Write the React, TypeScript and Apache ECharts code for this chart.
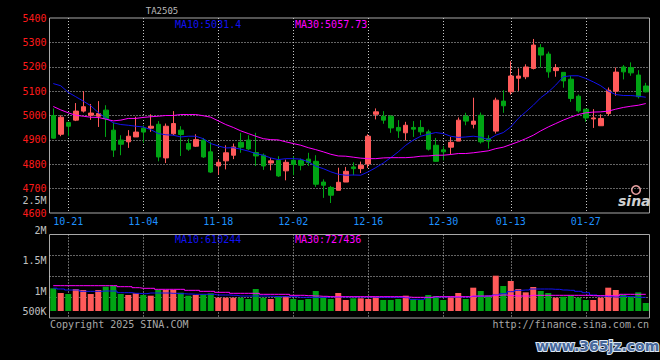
import React, { useEffect, useRef } from 'react';
import * as echarts from 'echarts';

const dates = [
  '10-17', '10-18', '10-21', '10-22', '10-23', '10-24', '10-25', '10-28', '10-29', '10-30',
  '10-31', '11-01', '11-04', '11-05', '11-06', '11-07', '11-08', '11-11', '11-12', '11-13',
  '11-14', '11-15', '11-18', '11-19', '11-20', '11-21', '11-22', '11-25', '11-26', '11-27',
  '11-28', '11-29', '12-02', '12-03', '12-04', '12-05', '12-06', '12-09', '12-10', '12-11',
  '12-12', '12-13', '12-16', '12-17', '12-18', '12-19', '12-20', '12-23', '12-24', '12-25',
  '12-26', '12-27', '12-30', '12-31', '01-02', '01-03', '01-06', '01-07', '01-08', '01-09',
  '01-10', '01-13', '01-14', '01-15', '01-16', '01-17', '01-20', '01-21', '01-22', '01-23',
  '01-24', '01-27', '02-05', '02-06', '02-07', '02-10', '02-11', '02-12', '02-13', '02-14',
];
const labelDates = ['10-21', '11-04', '11-18', '12-02', '12-16', '12-30', '01-13', '01-27'];

const opens = [
  5000, 4923, 4971, 4981, 5018, 5001, 4997, 5022, 4940, 4899,
  4892, 4912, 4948, 4948, 4964, 4826, 4925, 4940, 4885, 4874,
  4899, 4851, 4793, 4814, 4837, 4890, 4899, 4848, 4837, 4805,
  4816, 4773, 4816, 4816, 4821, 4812, 4727, 4705, 4693, 4727,
  4789, 4782, 4801, 5005, 4997, 4997, 4951, 4929, 4951, 4951,
  4933, 4878, 4859, 4870, 4895, 4997, 4964, 5001, 4905, 4936,
  5059, 5097, 5153, 5159, 5193, 5278, 5252, 5184, 5177, 5149,
  5079, 5026, 4986, 4958, 5008, 5100, 5199, 5197, 5166, 5121,
];
const closes = [
  4907, 4993, 4956, 5018, 5036, 5010, 5008, 4988, 4858, 4882,
  4915, 4932, 4932, 4956, 4830, 4956, 4967, 4922, 4862, 4901,
  4830, 4768, 4808, 4847, 4871, 4870, 4863, 4834, 4793, 4814,
  4752, 4808, 4799, 4796, 4807, 4718, 4714, 4673, 4726, 4771,
  4782, 4796, 4915, 5015, 4981, 4949, 4937, 4960, 4944, 4933,
  4862, 4812, 4851, 4890, 4981, 4977, 4977, 4892, 4895, 5063,
  5040, 5162, 5162, 5199, 5289, 5248, 5179, 5196, 5142, 5070,
  5019, 4990, 4990, 4988, 5104, 5178, 5179, 5175, 5077, 5097,
];
const lows = [
  4905, 4915, 4915, 4977, 5012, 4982, 4953, 4912, 4830, 4837,
  4867, 4912, 4888, 4933, 4812, 4805, 4919, 4834, 4855, 4871,
  4826, 4764, 4757, 4779, 4821, 4847, 4858, 4793, 4777, 4775,
  4748, 4734, 4755, 4775, 4793, 4707, 4662, 4641, 4693, 4727,
  4755, 4764, 4785, 4984, 4966, 4929, 4908, 4897, 4912, 4919,
  4856, 4810, 4816, 4840, 4895, 4960, 4947, 4885, 4864, 4926,
  5011, 5086, 5101, 5149, 5189, 5197, 5155, 5159, 5114, 5056,
  5012, 4974, 4949, 4958, 4999, 5081, 5148, 5163, 5070, 5095,
];
const highs = [
  5029, 5001, 4975, 5051, 5100, 5047, 5059, 5042, 4971, 4919,
  4940, 4995, 4960, 5005, 4977, 4967, 5018, 4956, 4905, 4923,
  4908, 4892, 4821, 4878, 4885, 4929, 4919, 4929, 4844, 4826,
  4833, 4819, 4833, 4823, 4847, 4837, 4738, 4711, 4786, 4789,
  4808, 4811, 4923, 5029, 5018, 5001, 4981, 4974, 4977, 4981,
  4942, 4908, 4874, 4912, 4992, 5011, 5073, 5012, 4919, 5073,
  5104, 5223, 5193, 5210, 5314, 5293, 5262, 5211, 5177, 5163,
  5086, 5026, 5026, 5005, 5115, 5197, 5207, 5218, 5186, 5134,
];
const ma10 = [
  5131, 5122, 5095, 5077, 5059, 5040, 5012, 4990, 4970, 4963,
  4960, 4956, 4953, 4942, 4926, 4921, 4919, 4912, 4915, 4915,
  4905, 4885, 4875, 4867, 4868, 4862, 4854, 4844, 4837, 4826,
  4819, 4823, 4823, 4821, 4810, 4792, 4782, 4769, 4759, 4755,
  4756, 4755, 4769, 4786, 4805, 4827, 4851, 4878, 4899, 4915,
  4923, 4930, 4926, 4915, 4910, 4912, 4915, 4911, 4901, 4919,
  4930, 4953, 4988, 5015, 5042, 5073, 5096, 5125, 5159, 5163,
  5163, 5152, 5138, 5122, 5100, 5086, 5082, 5082, 5079, 5075,
];
const ma30 = [
  5037, 5023, 5011, 5001, 4997, 4993, 4992, 4985, 4978, 4981,
  4988, 4988, 4992, 4995, 4997, 5000, 5000, 5004, 5004, 5004,
  4999, 4993, 4978, 4963, 4951, 4937, 4926, 4915, 4905, 4901,
  4900, 4892, 4885, 4878, 4868, 4860, 4851, 4841, 4834, 4833,
  4829, 4825, 4823, 4823, 4826, 4827, 4827, 4827, 4829, 4833,
  4834, 4837, 4837, 4840, 4844, 4844, 4847, 4851, 4855, 4864,
  4870, 4881, 4892, 4905, 4919, 4937, 4953, 4967, 4981, 4993,
  5004, 5011, 5014, 5015, 5018, 5026, 5033, 5038, 5042, 5049,
];
const volumes = [
  1067000, 950000, 925000, 1050000, 1025000, 925000, 1025000, 1108000, 1125000, 925000,
  900000, 942000, 900000, 883000, 1025000, 1025000, 1025000, 958000, 883000, 900000,
  917000, 942000, 833000, 833000, 833000, 833000, 800000, 1050000, 833000, 800000,
  875000, 875000, 800000, 775000, 800000, 1000000, 858000, 800000, 950000, 775000,
  817000, 817000, 800000, 858000, 775000, 775000, 800000, 883000, 800000, 775000,
  900000, 875000, 775000, 858000, 950000, 800000, 1083000, 1000000, 883000, 1383000,
  1125000, 1250000, 1050000, 967000, 1100000, 1000000, 950000, 833000, 858000, 883000,
  833000, 775000, 775000, 833000, 1083000, 1025000, 900000, 858000, 967000, 700000,
];
const volMa10 = [
  1070000, 1050000, 1025000, 1025000, 992000, 992000, 992000, 1000000, 1000000, 958000,
  958000, 942000, 933000, 950000, 950000, 950000, 942000, 933000, 925000, 917000,
  917000, 917000, 900000, 900000, 892000, 875000, 875000, 875000, 875000, 867000,
  858000, 858000, 858000, 842000, 842000, 842000, 842000, 850000, 850000, 850000,
  850000, 850000, 850000, 842000, 842000, 842000, 842000, 833000, 792000, 792000,
  833000, 850000, 850000, 850000, 850000, 850000, 867000, 867000, 875000, 900000,
  933000, 983000, 1017000, 1025000, 1050000, 1050000, 1050000, 1042000, 1025000, 1017000,
  992000, 958000, 900000, 875000, 858000, 850000, 867000, 858000, 842000, 842000,
];
const volMa30 = [
  1133000, 1133000, 1133000, 1133000, 1133000, 1133000, 1133000, 1133000, 1133000, 1108000,
  1108000, 1083000, 1067000, 1067000, 1042000, 1042000, 1042000, 1042000, 1017000, 1017000,
  992000, 992000, 967000, 967000, 942000, 942000, 942000, 942000, 917000, 917000,
  917000, 917000, 892000, 892000, 883000, 875000, 867000, 858000, 858000, 858000,
  858000, 858000, 858000, 858000, 858000, 858000, 858000, 850000, 842000, 842000,
  842000, 858000, 858000, 858000, 858000, 858000, 875000, 875000, 875000, 892000,
  900000, 883000, 875000, 875000, 892000, 892000, 892000, 892000, 892000, 892000,
  892000, 892000, 883000, 883000, 883000, 883000, 917000, 917000, 917000, 917000,
];

const priceMin = 4600;
const priceMax = 5400;
const priceStep = 100;
const volTickValues = [500000, 1000000, 1500000, 2000000, 2500000];
const volTickLabels = ['500K', '1M', '1.5M', '2M', '2.5M'];

const titleText = 'TA2505';
const priceMa10Text = 'MA10:5031.4';
const priceMa30Text = 'MA30:5057.73';
const volMa10Text = 'MA10:610244';
const volMa30Text = 'MA30:727436';

const RED = '#ff5a5a';
const GREEN = '#00a414';
const BLUE = '#1212f0';
const MAGENTA = '#ff00ff';
const MONO = '"DejaVu Sans Mono", "Liberation Mono", monospace';

export default function App() {
  const ref = useRef<HTMLDivElement>(null);

  useEffect(() => {
    if (!ref.current) return;
    const chart = echarts.init(ref.current, undefined, { renderer: 'svg' });

    const showDate = (_i: number, v: string) => labelDates.indexOf(v) >= 0;
    const dotted = { color: '#c8c8c8', type: [1, 2] as any, width: 1 };
    const gridLeft = 49.5;
    const gridWidth = 600;

    const volLabel = (lo: number, hi: number) => (v: number) => {
      const k = volTickValues.indexOf(v);
      return k >= 0 && v >= lo && v <= hi ? volTickLabels[k] : '';
    };

    const option: any = {
      animation: false,
      backgroundColor: '#000000',
      grid: [
        { left: gridLeft, width: gridWidth, top: 18, height: 195, show: true, borderColor: '#a8a8a8', borderWidth: 1, backgroundColor: 'transparent' },
        { left: gridLeft, width: gridWidth, top: 234.5, height: 83.5, show: true, borderColor: '#a8a8a8', borderWidth: 1, backgroundColor: 'transparent' },
        { left: gridLeft, width: gridWidth, top: 233.5, height: 77.5, show: false },
        { left: gridLeft, width: gridWidth, top: 200.5, height: 90.5, show: false },
      ],
      xAxis: [
        {
          gridIndex: 0, type: 'category', data: dates, boundaryGap: true,
          axisLine: { show: false }, axisTick: { show: false },
          axisLabel: { interval: showDate, color: '#1e90ff', fontSize: 10, fontFamily: MONO, margin: 3 },
          splitLine: { show: true, interval: showDate, alignWithLabel: true, lineStyle: dotted },
        },
        {
          gridIndex: 1, type: 'category', data: dates, boundaryGap: true,
          axisLine: { show: false }, axisTick: { show: false }, axisLabel: { show: false },
          splitLine: { show: true, interval: showDate, alignWithLabel: true, lineStyle: dotted },
        },
        { gridIndex: 2, type: 'category', data: dates, boundaryGap: true, show: false },
        { gridIndex: 3, type: 'category', data: dates, boundaryGap: true, show: false },
      ],
      yAxis: [
        {
          gridIndex: 0, type: 'value', min: priceMin, max: priceMax, interval: priceStep,
          axisLine: { show: false }, axisTick: { show: false },
          axisLabel: { color: '#ff1a1a', fontSize: 10, fontFamily: MONO, margin: 3, formatter: (v: number) => String(v) },
          splitLine: { show: true, showMinLine: false, showMaxLine: false, lineStyle: dotted },
        },
        {
          gridIndex: 1, type: 'value', min: 0, max: 4, interval: 1,
          axisLine: { show: false }, axisTick: { show: false }, axisLabel: { show: false },
          splitLine: { show: true, showMinLine: false, showMaxLine: false, lineStyle: dotted },
        },
        {
          gridIndex: 2, type: 'value', min: 500000, max: 2437500, interval: 500000,
          axisLine: { show: false }, axisTick: { show: false }, splitLine: { show: false },
          axisLabel: { color: '#c0c0c0', fontSize: 10, fontFamily: MONO, margin: 3, showMinLabel: true, formatter: volLabel(500000, 1000000) },
        },
        {
          gridIndex: 3, type: 'value', min: 1000000, max: 2500000, interval: 500000,
          axisLine: { show: false }, axisTick: { show: false }, splitLine: { show: false },
          axisLabel: { color: '#c0c0c0', fontSize: 10, fontFamily: MONO, margin: 3, showMaxLabel: true, formatter: volLabel(1500000, 2500000) },
        },
      ],
      series: [
        {
          type: 'candlestick', xAxisIndex: 0, yAxisIndex: 0, barWidth: 5,
          data: dates.map((_, i) => [opens[i], closes[i], lows[i], highs[i]]),
          itemStyle: { color: RED, color0: GREEN, borderColor: RED, borderColor0: GREEN, borderWidth: 1 },
        },
        {
          type: 'line', xAxisIndex: 0, yAxisIndex: 0, data: ma10, symbol: 'none',
          lineStyle: { color: BLUE, width: 1 },
        },
        {
          type: 'line', xAxisIndex: 0, yAxisIndex: 0, data: ma30, symbol: 'none',
          lineStyle: { color: MAGENTA, width: 1 },
        },
        {
          type: 'bar', xAxisIndex: 2, yAxisIndex: 2, barWidth: 6, clip: true,
          data: volumes.map((v, i) => ({ value: v, itemStyle: { color: closes[i] >= opens[i] ? RED : GREEN } })),
        },
        {
          type: 'line', xAxisIndex: 2, yAxisIndex: 2, data: volMa10, symbol: 'none', step: 'middle',
          lineStyle: { color: BLUE, width: 1 },
        },
        {
          type: 'line', xAxisIndex: 2, yAxisIndex: 2, data: volMa30, symbol: 'none', step: 'middle',
          lineStyle: { color: MAGENTA, width: 1 },
        },
      ],
      graphic: [
        { type: 'text', x: 162, y: 11, style: { text: titleText, fill: '#b8b8b8', font: `9px ${MONO}`, align: 'center', verticalAlign: 'middle' } },
        { type: 'text', x: 175, y: 24, style: { text: priceMa10Text, fill: BLUE, font: `10px ${MONO}`, verticalAlign: 'middle' } },
        { type: 'text', x: 295, y: 24, style: { text: priceMa30Text, fill: MAGENTA, font: `10px ${MONO}`, verticalAlign: 'middle' } },
        { type: 'text', x: 175, y: 239, style: { text: volMa10Text, fill: BLUE, font: `10px ${MONO}`, verticalAlign: 'middle' } },
        { type: 'text', x: 295, y: 239, style: { text: volMa30Text, fill: MAGENTA, font: `10px ${MONO}`, verticalAlign: 'middle' } },
        { type: 'text', x: 50, y: 324, style: { text: 'Copyright 2025 SINA.COM', fill: '#a8a8a8', font: `10px ${MONO}`, verticalAlign: 'middle' } },
        { type: 'text', x: 649, y: 324, style: { text: 'http://finance.sina.com.cn', fill: '#a8a8a8', font: `10px ${MONO}`, align: 'right', verticalAlign: 'middle' } },
        { type: 'ring', shape: { cx: 636, cy: 190, r: 5, r0: 3.5 }, style: { fill: '#e8a0a0' } },
        { type: 'text', x: 618, y: 201, style: { text: 'sina', fill: '#d0d0d0', font: `italic bold 14px "DejaVu Sans", sans-serif`, verticalAlign: 'middle' } },
        { type: 'text', x: 536, y: 346, style: { text: 'www.365jz.com', fill: '#46689c', stroke: '#dde6f2', lineWidth: 2, font: `bold 14px "DejaVu Sans", sans-serif`, verticalAlign: 'middle' } },
      ],
    };

    chart.setOption(option);
    return () => chart.dispose();
  }, []);

  return <div ref={ref} style={{ position: 'fixed', left: 0, top: 0, width: 660, height: 360 }} />;
}
